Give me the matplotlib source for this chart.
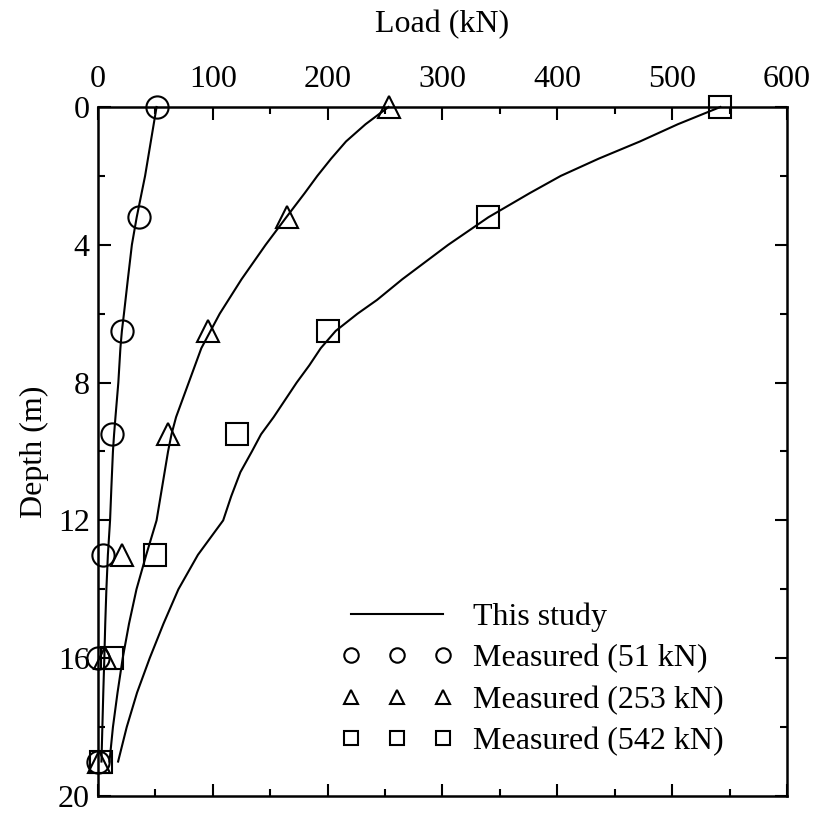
import numpy as np
import matplotlib.pyplot as plt
from matplotlib.ticker import MultipleLocator

plt.rcParams['font.family'] = ['Liberation Serif', 'DejaVu Serif']

# measured points (depth in m, load in kN)
depth_meas = [0, 3.2, 6.5, 9.5, 13, 16, 19]
load_51 = [51, 36, 21, 12, 4, 0, 0]
load_253 = [253, 165, 96, 61, 21, 6, 1]
load_542 = [542, 340, 200, 121, 50, 12, 3]

# "This study" curves
d_51 = [0, 1, 2, 3.2, 4, 5, 6, 6.5, 7, 8, 9, 9.5, 10, 11, 12, 13, 14, 15, 16, 17, 18, 19]
c_51 = [51, 46, 41, 33.7, 29.5, 26, 22.6, 20.8, 19.5, 17.7, 15.2, 14, 13, 11.7, 10.5, 8.6, 7.3, 6.3, 5.5, 4.6, 3.8, 3]
d_253 = [0, 0.5, 1, 1.5, 2, 2.5, 3.2, 4, 5, 6, 6.5, 7, 8, 9, 9.5, 10, 11, 12,
         13, 14, 15, 16, 17, 18, 19]
c_253 = [253, 233, 216, 203, 191, 180, 164, 146, 125, 106, 98, 90, 79, 68, 64, 61, 56, 51,
         42, 33.5, 27, 21.5, 17, 13, 10]
d_542 = [0, 0.5, 1, 1.5, 2, 2.5, 3.2, 4, 4.5, 5, 5.6, 6, 6.5, 7, 7.5, 8, 9, 9.5, 10,
         10.6, 11.3, 12, 13, 14, 15, 16, 17, 18, 19]
c_542 = [542, 505, 472, 436, 403, 376, 340, 305, 285, 265, 243, 226, 207, 194, 184, 173, 153, 142, 134,
         124, 116, 109, 87, 70, 57, 45, 34, 25, 17.5]

fig = plt.figure(figsize=(8.14, 8.13), dpi=100)
ax = fig.add_axes([0.1204, 0.0209, 0.8464, 0.8475])

lw = 1.5
ax.plot(c_51, d_51, color='black', lw=lw, label='This study', clip_on=False)
ax.plot(c_253, d_253, color='black', lw=lw, clip_on=False)
ax.plot(c_542, d_542, color='black', lw=lw, clip_on=False)

ms = 16
ax.plot(load_51, depth_meas, ls='none', marker='o', ms=ms, mfc='none', mec='black', mew=1.5,
        label='Measured (51 kN)', clip_on=False)
ax.plot(load_253, depth_meas, ls='none', marker='^', ms=ms, mfc='none', mec='black', mew=1.5,
        label='Measured (253 kN)', clip_on=False)
ax.plot(load_542, depth_meas, ls='none', marker='s', ms=ms, mfc='none', mec='black', mew=1.5,
        label='Measured (542 kN)', clip_on=False)

ax.set_xlim(0, 600)
ax.set_ylim(20, 0)
ax.xaxis.set_major_locator(MultipleLocator(100))
ax.xaxis.set_minor_locator(MultipleLocator(50))
ax.yaxis.set_major_locator(MultipleLocator(4))
ax.yaxis.set_minor_locator(MultipleLocator(2))
ax.xaxis.tick_top()
ax.xaxis.set_label_position('top')
ax.tick_params(which='both', direction='in', top=True, bottom=True, left=True, right=True,
               labeltop=True, labelbottom=False, labelsize=23, width=1.5, pad=6)
ax.tick_params(axis='x', which='major', pad=9)
ax.tick_params(which='major', length=9)
ax.tick_params(which='minor', length=5)
for s in ax.spines.values():
    s.set_linewidth(1.8)

ax.set_xlabel('Load (kN)', fontsize=23, labelpad=24)
ax.set_ylabel('Depth (m)', fontsize=23, labelpad=6)

ax.legend(loc='upper left', bbox_to_anchor=(0.354, 0.281), frameon=False, fontsize=23,
          numpoints=3, markerscale=0.65, handlelength=3.45, handletextpad=0.66,
          borderpad=0, borderaxespad=0, labelspacing=0.38)

fig.savefig('out.png', dpi=100)
